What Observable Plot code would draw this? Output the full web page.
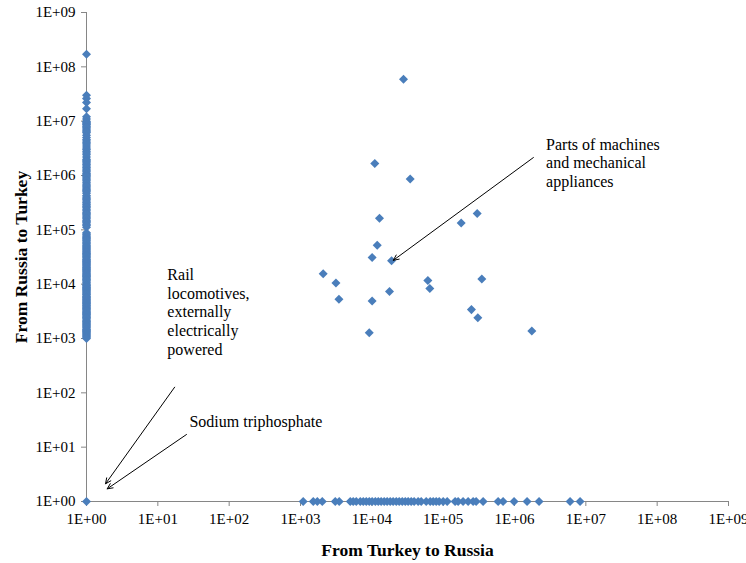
<!DOCTYPE html>
<html>
<head>
<meta charset="utf-8">
<script src="https://cdn.jsdelivr.net/npm/d3@7"></script>
<script src="https://cdn.jsdelivr.net/npm/@observablehq/plot@0.6"></script>
<style>
  html, body { margin: 0; padding: 0; background: #fff; }
  #chart svg { display: block; }
  #chart svg, #chart svg text { font-family: "Liberation Serif", "DejaVu Serif", serif !important; }
  #chart [aria-label="x-axis label"] text, #chart [aria-label="y-axis label"] text { font-weight: bold; font-size: 17.5px; }
</style>
</head>
<body>
<div id="chart"></div>
<script>
// Exports recorded only from Russia to Turkey (Turkey->Russia value shown as 1)
const columnY = [170000000, 30000000, 26000000, 22000000, 17000000, 12000000, 11000000, 10000000, 9600000, 9200000,
  8800000, 8500000, 8000000, 7600000, 7200000, 6800000, 6400000, 6100000, 5500000, 5000000, 4600000, 4300000,
  4000000, 3800000, 3500000, 3200000, 3000000, 2800000, 2600000, 2400000, 2200000, 2000000, 1900000, 1800000,
  1700000, 1600000, 1500000, 1400000, 1320000, 1250000, 1170000, 1100000, 1050000, 1000000, 950000, 900000,
  850000, 800000, 750000, 700000, 660000, 620000, 590000, 560000, 530000, 500000, 470000, 430000, 400000, 380000,
  360000, 340000, 320000, 300000, 285000, 270000, 255000, 240000, 225000, 210000, 200000, 190000, 180000, 170000,
  160000, 150000, 142000, 135000, 127000, 120000, 112000, 88000, 84000, 80000, 76000, 72000, 69000, 66000, 63000,
  60000, 57000, 55000, 52000, 50000, 48000, 46000, 44000, 42000, 40000, 38000, 36500, 35000, 33500, 32000, 30500,
  29000, 28000, 27000, 26000, 25000, 24000, 23000, 22000, 21000, 20200, 19500, 18700, 18000, 17200, 16500, 15700,
  15000, 14500, 14000, 13500, 13000, 12500, 12000, 11500, 11000, 10500, 10000, 9600, 9300, 8900, 8600, 8300, 8000,
  7700, 7400, 7100, 6800, 6500, 6300, 6000, 5800, 5600, 5400, 5200, 5000, 4800, 4600, 4450, 4300, 4150, 4000, 3850,
  3700, 3550, 3400, 3250, 3100, 3000, 2900, 2800, 2700, 2600, 2500, 2400, 2300, 2200, 2100, 2030, 1950, 1870, 1800,
  1720, 1650, 1580, 1500, 1450, 1400, 1350, 1300, 1250, 1200, 1150, 1100, 1050, 1000, 1];
// Exports recorded only from Turkey to Russia (Russia->Turkey value shown as 1)
const rowX = [1090, 1510, 1720, 2020, 3070, 3490, 4980, 5480, 6050, 6880, 7580, 8350, 9200, 10100, 11200, 12300,
  13500, 14900, 16400, 18100, 19900, 22000, 24200, 26700, 29400, 32300, 35600, 39200, 44600, 49200, 57800, 65800,
  72400, 79800, 87900, 100000, 113800, 147000, 162000, 190000, 224000, 263000, 290000, 363000, 589000, 692000,
  986000, 1500000, 2210000, 6010000, 8300000];
// Products traded in both directions
const bothX = [27800, 11000, 34500, 12800, 300000, 179000, 11900, 10100, 18900, 2080, 3140, 3460, 10100, 17700,
  61000, 65000, 348000, 249000, 306000, 9200, 1750000];
const bothY = [59000000, 1660000, 860000, 163000, 200000, 133000, 52000, 31000, 27000, 15600, 10500, 5300, 4900,
  7300, 11700, 8300, 12400, 3400, 2400, 1280, 1370];
// Tick values
const decadeTicks = [1, 1e1, 1e2, 1e3, 1e4, 1e5, 1e6, 1e7, 1e8, 1e9];
// Annotations (data units)
const noteText = ["Parts of machines\nand mechanical\nappliances", "Rail\nlocomotives,\nexternally\nelectrically\npowered", "Sodium triphosphate"];
const noteX = [2770000, 13.6, 27.7];
const noteY = [1750000, 3160, 29.7];
const arrowX1 = [1840000, 17.2, 25.2];
const arrowY1 = [2140000, 127, 17.1];
const arrowX2 = [20000, 1.85, 1.95];
const arrowY2 = [27500, 2.12, 1.71];

const points = [
  ...columnY.map(v => ({x: 1, y: v})),
  ...rowX.map(v => ({x: v, y: 1})),
  ...bothX.map((v, i) => ({x: v, y: bothY[i]}))
];
const notes = noteText.map((t, i) => ({t, x: noteX[i], y: noteY[i]}));
const arrows = arrowX1.map((v, i) => ({x1: v, y1: arrowY1[i], x2: arrowX2[i], y2: arrowY2[i]}));
const fmt = d => "1E+" + String(Math.round(Math.log10(d))).padStart(2, "0");

const chart = Plot.plot({
  width: 746,
  height: 563,
  marginLeft: 86,
  marginRight: 18,
  marginTop: 12,
  marginBottom: 62,
  style: {fontFamily: "'Liberation Serif', serif", fontSize: "15px", color: "#000", background: "#fff"},
  x: {type: "log", domain: [1, 1e9]},
  y: {type: "log", domain: [1, 1e9]},
  marks: [
    Plot.ruleY([1], {stroke: "#868686", strokeWidth: 1}),
    Plot.ruleX([1], {stroke: "#868686", strokeWidth: 1}),
    Plot.axisX({ticks: decadeTicks, tickFormat: fmt, tickSize: 5, tickPadding: 7, stroke: "#868686",
      label: "From Turkey to Russia", labelAnchor: "center", labelArrow: "none", labelOffset: 54, fill: "#000"}),
    Plot.axisY({ticks: decadeTicks, tickFormat: fmt, tickSize: 5, tickPadding: 6, stroke: "#868686",
      label: "From Russia to Turkey", labelAnchor: "center", labelArrow: "none", labelOffset: 72, fill: "#000"}),
    Plot.dot(points, {x: "x", y: "y", symbol: "square", rotate: 45, r: 3.6, fill: "#4A7EBB", stroke: "none"}),
    Plot.arrow(arrows, {x1: "x1", y1: "y1", x2: "x2", y2: "y2", stroke: "#000", strokeWidth: 1, headLength: 9, headAngle: 50}),
    Plot.text(notes, {x: "x", y: "y", text: "t", textAnchor: "start", lineAnchor: "middle", lineHeight: 1.17, fontSize: 16, fill: "#000"})
  ]
});
document.getElementById("chart").append(chart);
</script>
</body>
</html>
